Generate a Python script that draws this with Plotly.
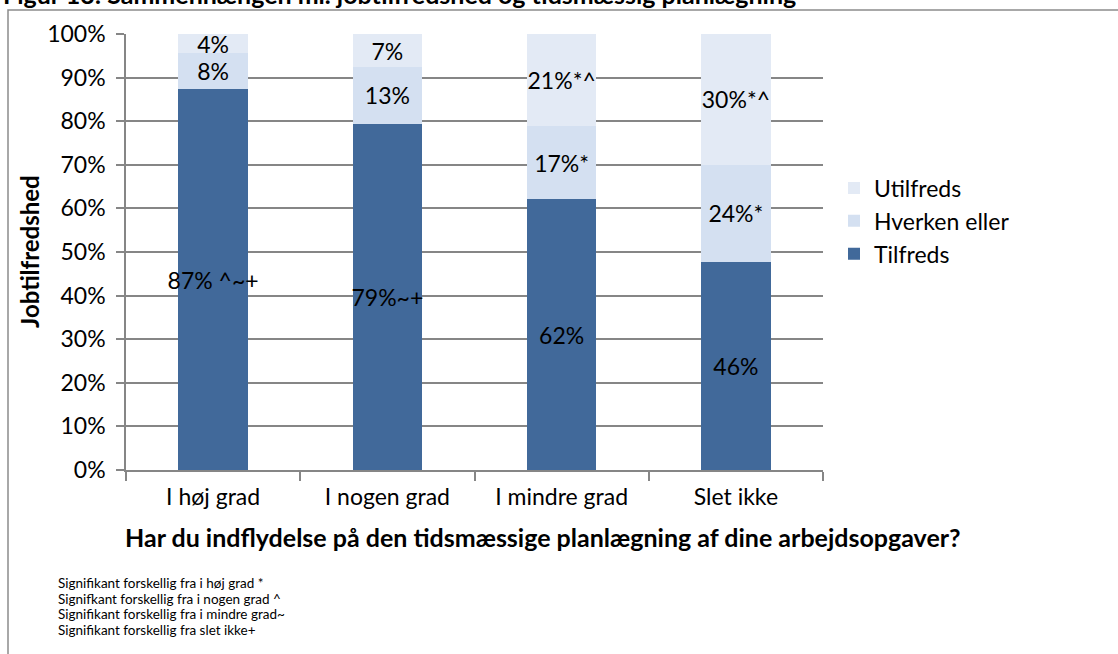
import plotly.graph_objects as go

categories = ["I høj grad", "I nogen grad", "I mindre grad", "Slet ikke"]
tilfreds = [87.3, 79.4, 62.1, 47.8]
hverken = [8.3, 13.0, 16.7, 22.2]
utilfreds = [4.4, 7.6, 21.2, 30.0]
tilfreds_labels = ["87% ^~+", "79%~+", "62%", "46%"]
hverken_labels = ["8%", "13%", "17%*", "24%*"]
utilfreds_labels = ["4%", "7%", "21%*^", "30%*^"]
footnotes = [
    "Signifikant forskellig fra i høj grad *",
    "Signifkant forskellig fra i nogen grad ^",
    "Signifikant forskellig fra i mindre grad~",
    "Signifikant forskellig fra slet ikke+",
]
title_text = "Figur 13: Sammenhængen ml. jobtilfredshed og tidsmæssig planlægning"
x_title = "Har du indflydelse på den tidsmæssige planlægning af dine arbejdsopgaver?"
y_title = "Jobtilfredshed"

W, H = 1118, 654
L, R, T, B = 126, 823, 34, 470
FONT = "Lato, 'Open Sans', sans-serif"

def px(x):
    return (x - L) / (R - L)

def py(y):
    return (B - y) / (B - T)

fig = go.Figure()
series = [
    ("Tilfreds", tilfreds, tilfreds_labels, "#41699A"),
    ("Hverken eller", hverken, hverken_labels, "#D4E0F1"),
    ("Utilfreds", utilfreds, utilfreds_labels, "#E3EAF5"),
]
for name, vals, labels, color in series:
    fig.add_trace(go.Bar(
        x=categories, y=vals, name=name, text=labels,
        textposition="inside", insidetextanchor="middle", textangle=0,
        textfont=dict(family=FONT, size=23, color="#000000"),
        marker=dict(color=color, line=dict(width=0)),
        hoverinfo="skip",
    ))

annotations = [
    dict(text=f"<b>{title_text}</b>", x=px(1), y=py(-6), xref="paper", yref="paper",
         xanchor="left", yanchor="middle", showarrow=False,
         font=dict(family=FONT, size=25, color="#000")),
    dict(text=f"<b>{x_title}</b>", x=px(543), y=py(537), xref="paper", yref="paper",
         xanchor="center", yanchor="middle", showarrow=False,
         font=dict(family=FONT, size=25, color="#000")),
    dict(text=f"<b>{y_title}</b>", x=px(29), y=py(252), xref="paper", yref="paper",
         xanchor="center", yanchor="middle", showarrow=False, textangle=-90,
         font=dict(family=FONT, size=24, color="#000")),
]
for i, line in enumerate(footnotes):
    annotations.append(dict(
        text=line, x=px(56), y=py(583 + i * 15.7), xref="paper", yref="paper",
        xanchor="left", yanchor="middle", showarrow=False,
        font=dict(family=FONT, size=13.5, color="#000")))

fig.update_layout(
    width=W, height=H,
    margin=dict(l=L, r=W - R, t=T, b=H - B, pad=0),
    paper_bgcolor="white", plot_bgcolor="white",
    barmode="stack", bargap=0.6,
    uniformtext=dict(minsize=23, mode="show"),
    font=dict(family=FONT, color="#000"),
    showlegend=True,
    legend=dict(x=px(834), y=py(221), xanchor="left", yanchor="middle",
                traceorder="reversed", font=dict(family=FONT, size=23, color="#000"),
                itemsizing="constant", tracegroupgap=0, bgcolor="rgba(0,0,0,0)"),
    annotations=annotations,
    shapes=[dict(type="rect", xref="paper", yref="paper",
                 x0=px(8), x1=px(1200), y0=py(700), y1=py(10),
                 line=dict(color="#8C8C8C", width=1.5), fillcolor="rgba(0,0,0,0)",
                 layer="below")],
)
fig.update_xaxes(
    type="category", showline=True, linecolor="#868686", linewidth=1.5,
    ticks="outside", tickson="boundaries", ticklen=9, tickcolor="#868686", tickwidth=1.5,
    showgrid=False, tickfont=dict(family=FONT, size=23, color="#000"),
    ticklabelstandoff=6,
)
fig.update_yaxes(
    range=[0, 100], dtick=10, ticksuffix="%", showline=True, linecolor="#868686",
    linewidth=1.5, ticks="outside", ticklen=8, tickcolor="#868686", tickwidth=1.5,
    showgrid=True, gridcolor="#868686", gridwidth=1.5, zeroline=False,
    tickfont=dict(family=FONT, size=23, color="#000"), ticklabelstandoff=6,
)

fig.write_html("out.html")
